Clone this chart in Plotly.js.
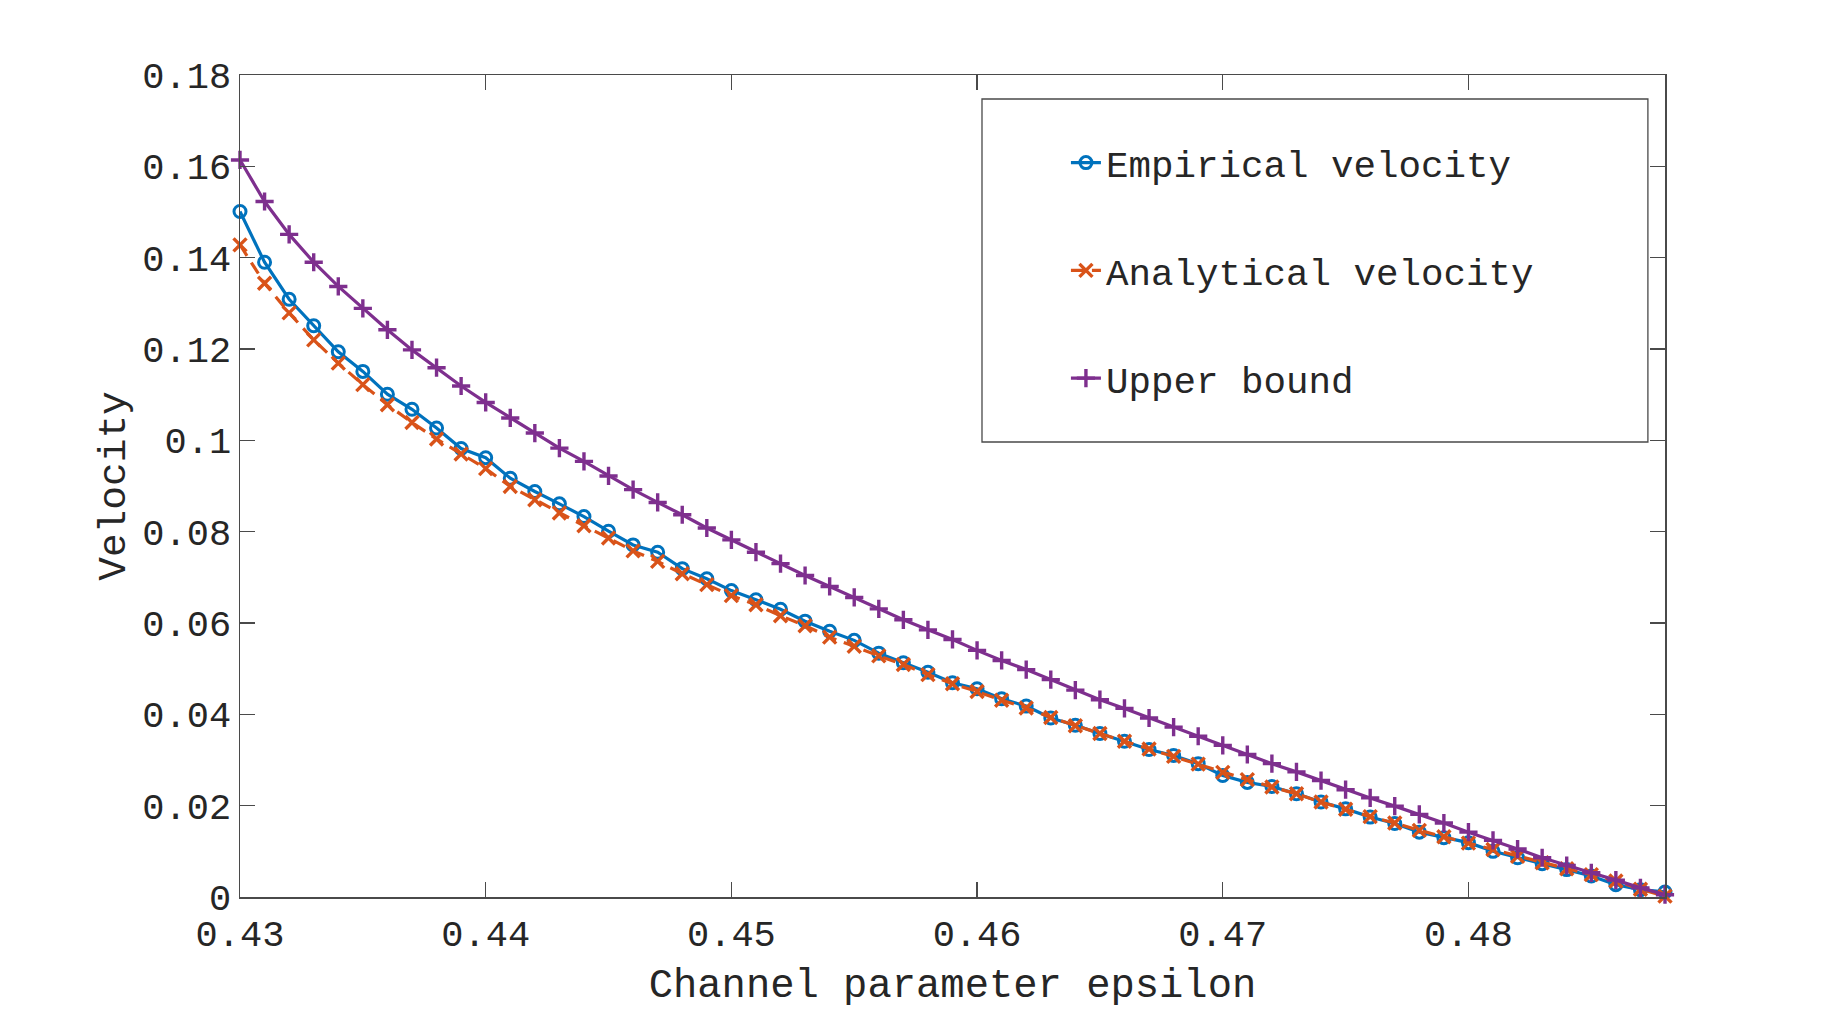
<!DOCTYPE html>
<html>
<head>
<meta charset="utf-8">
<script src="https://cdn.plot.ly/plotly-3.0.1.min.js"></script>
<style>
  html, body { margin: 0; padding: 0; background: #ffffff; }
  #chart { width: 1842px; height: 1009px; }
</style>
</head>
<body>
<div id="chart"></div>
<script>
// Channel parameter epsilon, 0.430 .. 0.488 in steps of 0.001
const epsilon = [
  0.430, 0.431, 0.432, 0.433, 0.434, 0.435, 0.436, 0.437, 0.438, 0.439,
  0.440, 0.441, 0.442, 0.443, 0.444, 0.445, 0.446, 0.447, 0.448, 0.449,
  0.450, 0.451, 0.452, 0.453, 0.454, 0.455, 0.456, 0.457, 0.458, 0.459,
  0.460, 0.461, 0.462, 0.463, 0.464, 0.465, 0.466, 0.467, 0.468, 0.469,
  0.470, 0.471, 0.472, 0.473, 0.474, 0.475, 0.476, 0.477, 0.478, 0.479,
  0.480, 0.481, 0.482, 0.483, 0.484, 0.485, 0.486, 0.487, 0.488
];

// Measured velocity from simulation
const empiricalVelocity = [
  0.1501, 0.1390, 0.1309, 0.1251, 0.1194, 0.1151, 0.1101, 0.1068, 0.1027, 0.0982,
  0.0962, 0.0917, 0.0888, 0.0861, 0.0833, 0.0801, 0.0771, 0.0755, 0.0719, 0.0697,
  0.0671, 0.0651, 0.0630, 0.0604, 0.0582, 0.0562, 0.0534, 0.0513, 0.0492, 0.0469,
  0.0456, 0.0434, 0.0418, 0.0392, 0.0376, 0.0358, 0.0341, 0.0323, 0.0310, 0.0292,
  0.0266, 0.0251, 0.0242, 0.0226, 0.0208, 0.0193, 0.0175, 0.0161, 0.0142, 0.0130,
  0.0119, 0.0100, 0.0086, 0.0073, 0.0060, 0.0046, 0.0027, 0.0016, 0.0011
];

// Closed-form velocity
const analyticalVelocity = [
  0.1428, 0.1344, 0.1279, 0.1220, 0.1169, 0.1122, 0.1078, 0.1039, 0.1003, 0.0970,
  0.0938, 0.0899, 0.0870, 0.0841, 0.0813, 0.0786, 0.0758, 0.0735, 0.0708, 0.0684,
  0.0660, 0.0640, 0.0616, 0.0594, 0.0569, 0.0549, 0.0528, 0.0509, 0.0487, 0.0467,
  0.0450, 0.0431, 0.0414, 0.0393, 0.0375, 0.0358, 0.0341, 0.0324, 0.0308, 0.0291,
  0.0273, 0.0257, 0.0241, 0.0226, 0.0208, 0.0192, 0.0176, 0.0162, 0.0146, 0.0132,
  0.0118, 0.0104, 0.0089, 0.0075, 0.0062, 0.0049, 0.0035, 0.0017, 0.0002
];

// Upper bound on the velocity
const upperBound = [
  0.1614, 0.1523, 0.1451, 0.1390, 0.1337, 0.1289, 0.1242, 0.1198, 0.1159, 0.1119,
  0.1083, 0.1049, 0.1016, 0.0983, 0.0954, 0.0922, 0.0892, 0.0864, 0.0837, 0.0808,
  0.0782, 0.0755, 0.0730, 0.0704, 0.0680, 0.0656, 0.0631, 0.0607, 0.0585, 0.0564,
  0.0540, 0.0518, 0.0498, 0.0476, 0.0453, 0.0432, 0.0413, 0.0392, 0.0372, 0.0352,
  0.0332, 0.0312, 0.0292, 0.0274, 0.0255, 0.0235, 0.0217, 0.0199, 0.0181, 0.0162,
  0.0142, 0.0124, 0.0105, 0.0086, 0.0069, 0.0053, 0.0037, 0.0020, 0.0005
];

const seriesNames = ['Empirical velocity', 'Analytical velocity', 'Upper bound'];

const FONT = '"Liberation Mono", "Courier New", "DejaVu Sans Mono", monospace';
const INK = '#262626';
const AXIS = '#4a4a4a';

const traces = [
  {
    x: epsilon, y: empiricalVelocity, name: seriesNames[0], legendgroup: 'g1',
    type: 'scatter', mode: 'lines+markers', cliponaxis: false,
    line: { color: '#0072BD', width: 3.2 },
    marker: { symbol: 'circle-open', size: 12, color: '#0072BD', line: { width: 3, color: '#0072BD' } }
  },
  {
    x: epsilon, y: analyticalVelocity, name: seriesNames[1], legendgroup: 'g2',
    type: 'scatter', mode: 'lines+markers', cliponaxis: false,
    line: { color: '#D95319', width: 3.2, dash: '13px,8px' },
    marker: { symbol: 'x-thin-open', size: 13, color: '#D95319', line: { width: 3.4, color: '#D95319' } }
  },
  {
    x: epsilon, y: upperBound, name: seriesNames[2], legendgroup: 'g3',
    type: 'scatter', mode: 'lines+markers', cliponaxis: false,
    line: { color: '#7E2F8E', width: 3.2 },
    marker: { symbol: 'cross-thin-open', size: 13, color: '#7E2F8E', line: { width: 3.4, color: '#7E2F8E' } }
  }
];

const axisCommon = {
  showgrid: false,
  zeroline: false,
  showline: true,
  linecolor: AXIS,
  linewidth: 1.5,
  mirror: 'ticks',
  ticks: 'inside',
  ticklen: 15,
  tickwidth: 1.3,
  tickcolor: AXIS,
  tickfont: { family: FONT, size: 37, color: INK }
};

const layout = {
  width: 1842,
  height: 1009,
  paper_bgcolor: '#ffffff',
  plot_bgcolor: '#ffffff',
  margin: { l: 240, r: 177, t: 75, b: 112 },
  font: { family: FONT, color: INK },
  xaxis: Object.assign({}, axisCommon, {
    range: [0.43, 0.488],
    dtick: 0.01,
    tick0: 0.43,
    ticklabelstandoff: 3,
    title: { text: 'Channel parameter epsilon', font: { family: FONT, size: 40.5, color: INK }, standoff: 17 }
  }),
  yaxis: Object.assign({}, axisCommon, {
    range: [0, 0.18],
    dtick: 0.02,
    tick0: 0,
    title: { text: 'Velocity', font: { family: FONT, size: 39.5, color: INK }, standoff: 4 }
  }),
  showlegend: true,
  legend: {
    x: 0.5796, xanchor: 'left',
    y: 0.931, yanchor: 'top',
    bgcolor: 'rgba(0,0,0,0)',
    borderwidth: 0,
    traceorder: 'grouped',
    tracegroupgap: 56,
    font: { family: FONT, size: 37.5, color: INK }
  },
  shapes: [
    {
      type: 'rect', xref: 'paper', yref: 'paper',
      x0: 0.5207, x1: 0.988, y0: 0.5535, y1: 0.9708,
      line: { color: AXIS, width: 1.3 },
      fillcolor: '#ffffff',
      layer: 'above'
    }
  ]
};

Plotly.newPlot('chart', traces, layout, { staticPlot: true, displayModeBar: false });
</script>
</body>
</html>
